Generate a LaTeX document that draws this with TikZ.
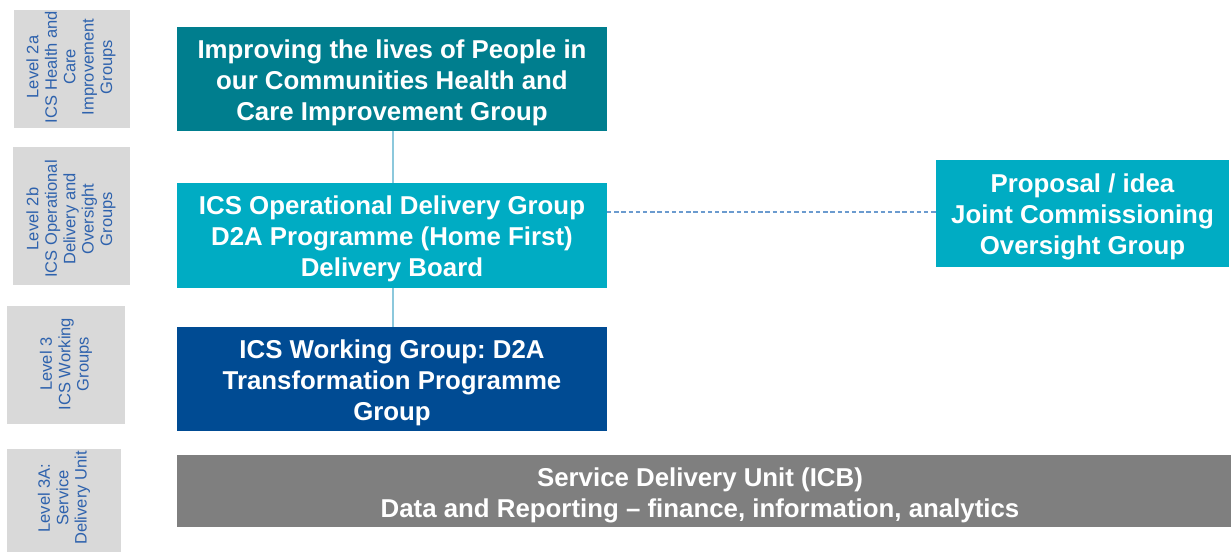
\documentclass[tikz,border=0pt]{standalone}
\usepackage{fontspec}
\setmainfont{Liberation Sans}
\frenchspacing
\begin{document}
\definecolor{lvlgray}{HTML}{D9D9D9}
\definecolor{lvltext}{HTML}{2E62AD}
\definecolor{tealdark}{HTML}{007E8E}
\definecolor{tealmid}{HTML}{00ACC3}
\definecolor{navy}{HTML}{004B93}
\definecolor{unitgray}{HTML}{7F7F7F}
\definecolor{linkblue}{HTML}{8CC8DC}
\definecolor{dashblue}{HTML}{6B9BCF}
\begin{tikzpicture}[x=0.02cm,y=-0.02cm,
  lvlbox/.style={fill=lvlgray,draw=none},
  lvllabel/.style={rotate=90,text=lvltext,font=\fontsize{9.4}{10.5}\selectfont,align=center,inner sep=0pt},
  govbox/.style={draw=none,text=white,font=\bfseries\fontsize{14.7}{17.6}\selectfont,align=center,inner sep=0pt},
  link/.style={draw=linkblue,line width=0.6pt},
  dashlink/.style={draw=dashblue,line width=0.7pt,dash pattern=on 2.5pt off 1.6pt}]
\useasboundingbox (0,0) rectangle (1231,552);

% level side labels
\fill[lvlbox] (14,10) rectangle (130,128);
\node[lvllabel] (l2a) at (71,67) {Level 2a\\ICS Health and\\Care\\Improvement\\Groups};
\fill[lvlbox] (13,147) rectangle (130,285);
\node[lvllabel] (l2b) at (71,219) {Level 2b\\ICS Operational\\Delivery and\\Oversight\\Groups};
\fill[lvlbox] (7,306) rectangle (125,424);
\node[lvllabel] (l3) at (66,364) {Level 3\\ICS Working\\Groups};
\fill[lvlbox] (7,449) rectangle (121,552);
\node[lvllabel] (l3a) at (64,498) {Level 3A:\\Service\\Delivery Unit};

% governance boxes
\fill[tealdark] (177,27) rectangle (607,131);
\node[govbox] (hcig) at (392,82.5) {Improving the lives of People in\\our Communities Health and\\Care Improvement Group};
\fill[tealmid] (177,183) rectangle (607,288);
\node[govbox] (odg) at (392,238.5) {ICS Operational Delivery Group\\D2A Programme (Home First)\\Delivery Board};
\fill[navy] (177,327) rectangle (607,431);
\node[govbox] (wg) at (392,383) {ICS Working Group: D2A\\Transformation Programme\\Group};
\fill[unitgray] (177,455) rectangle (1231,527);
\node[govbox] (sdu) at (700,495.5) {Service Delivery Unit (ICB)\\Data and Reporting -- finance, information, analytics};
\fill[tealmid] (936,160) rectangle (1229,267);
\node[govbox] (jcog) at (1082.5,216.5) {Proposal / idea\\Joint Commissioning\\Oversight Group};

% connectors
\coordinate (hcigB) at (393,131);
\coordinate (odgT) at (393,183);
\coordinate (odgB) at (393,288);
\coordinate (wgT) at (393,327);
\coordinate (odgR) at (607,212);
\coordinate (jcogL) at (936,212);
\draw[link] (hcigB) -- (odgT);
\draw[link] (odgB) -- (wgT);
\draw[dashlink] (odgR) -- (jcogL);
\end{tikzpicture}
\end{document}
